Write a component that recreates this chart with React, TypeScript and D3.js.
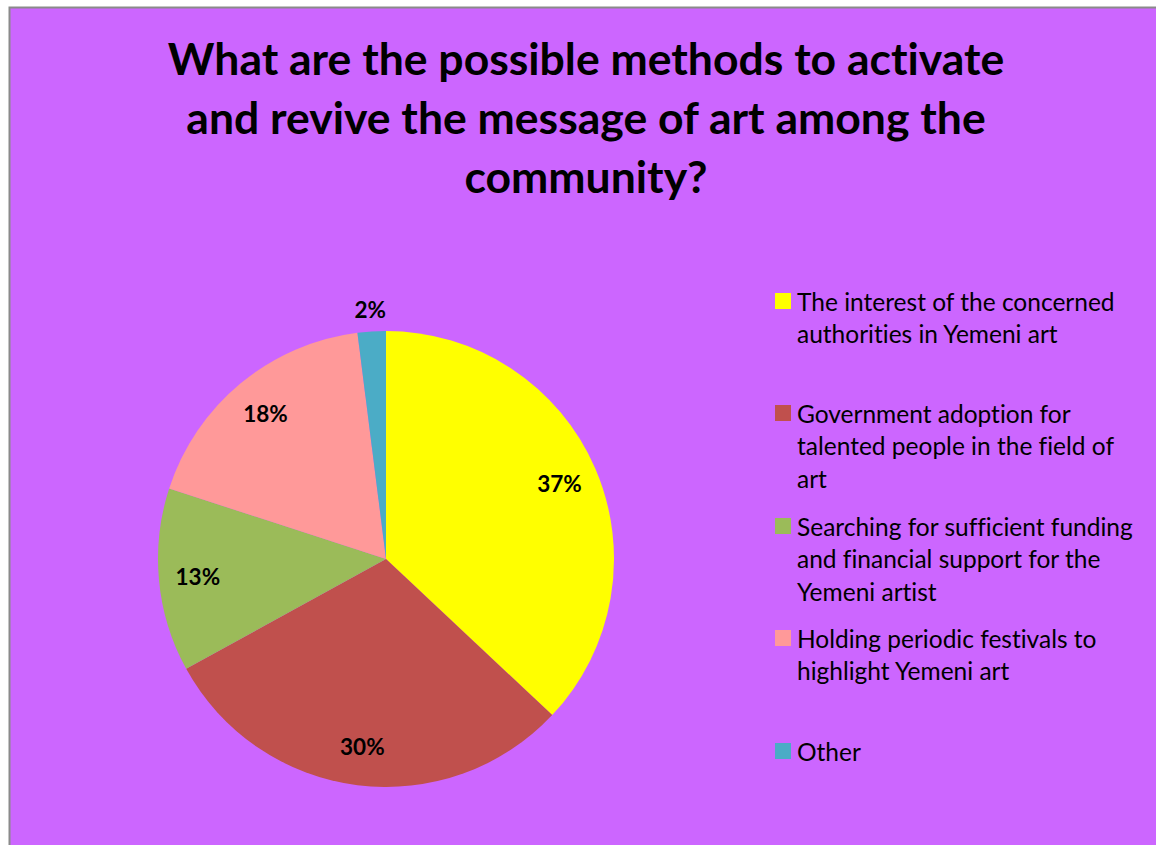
import React from "react";
import * as d3 from "d3";

const categories = [
  "The interest of the concerned authorities in Yemeni art",
  "Government adoption for talented people in the field of art",
  "Searching for sufficient funding and financial support for the Yemeni artist",
  "Holding periodic festivals to highlight Yemeni art",
  "Other",
];
const values = [37, 30, 13, 18, 2];
const colors = ["#FFFF00", "#C0504D", "#9BBB59", "#FF9999", "#4BACC6"];
const legendLines = [
  ["The interest of the concerned", "authorities in Yemeni art"],
  ["Government adoption for", "talented people in the field of", "art"],
  ["Searching for sufficient funding", "and financial support for the", "Yemeni artist"],
  ["Holding periodic festivals to", "highlight Yemeni art"],
  ["Other"],
];
const legendTop = [301, 413, 526, 638, 751];
const titleLines = [
  "What are the possible methods to activate",
  "and revive the message of art among the",
  "community?",
];

const W = 1156;
const H = 845;
const cx = 386;
const cy = 559;
const R = 228;
const font = "Lato, 'Open Sans', sans-serif";

export default function App() {
  const pie = d3.pie<number>().sort(null).value((d) => d)(values);
  const arc = d3.arc<d3.PieArcDatum<number>>().innerRadius(0).outerRadius(R);
  const labelArc = d3.arc<d3.PieArcDatum<number>>().innerRadius(189).outerRadius(189);
  const outArc = d3.arc<d3.PieArcDatum<number>>().innerRadius(250).outerRadius(250);
  return (
    <svg
      width={W}
      height={H}
      style={{ position: "absolute", left: 0, top: 0, display: "block", fontVariantLigatures: "none" }}
    >
      <rect x={0} y={0} width={W} height={H} fill="#ffffff" />
      <rect x={9.5} y={7.5} width={W + 10} height={H + 10} fill="#CC66FF" stroke="#8a8a8a" strokeWidth={2} />
      {titleLines.map((t, i) => (
        <text
          key={i}
          x={586}
          y={75 + i * 59}
          textAnchor="middle"
          fontFamily={font}
          fontWeight="bold"
          fontSize={44.5}
          fill="#000"
        >
          {t}
        </text>
      ))}
      <g transform={`translate(${cx},${cy})`}>
        {pie.map((p, i) => (
          <path key={i} d={arc(p) || ""} fill={colors[i]} />
        ))}
        {pie.map((p, i) => {
          const [x, y] = (values[i] < 5 ? outArc : labelArc).centroid(p);
          return (
            <text
              key={"l" + i}
              x={x}
              y={y}
              textAnchor="middle"
              dominantBaseline="central"
              fontFamily={font}
              fontWeight="bold"
              fontSize={22.5}
              fill="#000"
            >
              {values[i]}%
            </text>
          );
        })}
      </g>
      {categories.map((c, i) => (
        <g key={c}>
          <rect x={775} y={legendTop[i] - 8} width={16} height={16} fill={colors[i]} />
          {legendLines[i].map((l, j) => (
            <text
              key={j}
              x={797}
              y={legendTop[i] + j * 32.5}
              dominantBaseline="central"
              fontFamily={font}
              fontSize={24.5}
              fill="#000"
            >
              {l}
            </text>
          ))}
        </g>
      ))}
    </svg>
  );
}
